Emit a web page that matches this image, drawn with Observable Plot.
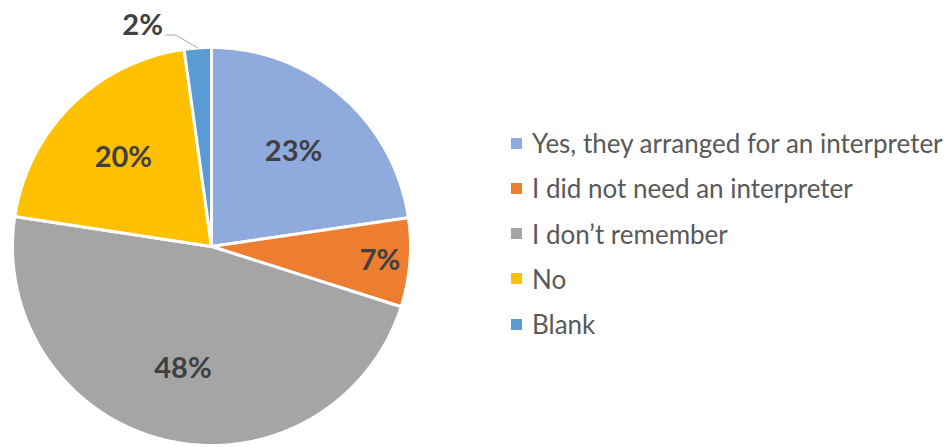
<!DOCTYPE html>
<html>
<head>
<meta charset="utf-8">
<script src="https://cdn.jsdelivr.net/npm/d3@7"></script>
<script src="https://cdn.jsdelivr.net/npm/@observablehq/plot@0.6"></script>
<style>
  body { margin: 0; background: #fff; }
  #wrap { position: relative; width: 948px; height: 447px; }
  #legend { position: absolute; left: 511px; top: 0; font-family: Lato, "Open Sans", sans-serif; color: #595959; }
  .item { position: absolute; left: 0; white-space: nowrap; display: flex; align-items: center; height: 32px; font-size: 26px; }
  .sw { width: 11px; height: 11px; margin-right: 10px; flex: none; }
</style>
</head>
<body>
<div id="wrap"><div id="legend"></div></div>
<script>
const categories = ["Yes, they arranged for an interpreter", "I did not need an interpreter", "I don\u2019t remember", "No", "Blank"];
const shares = [22.7, 7.2, 47.5, 20.4, 2.2];
const labels = ["23%", "7%", "48%", "20%", "2%"];
const colors = ["#8FAADC", "#ED7D31", "#A5A5A5", "#FFC000", "#5B9BD5"];

const rows = categories.map((c, i) => ({cat: c, value: shares[i], label: labels[i]}));
const arcs = d3.pie().sort(null).value(d => d.value).startAngle(0).endAngle(2 * Math.PI)(rows);

const polar = (a, r) => ({x: r * Math.sin(a), y: r * Math.cos(a)});

// slice outlines
const pts = [];
arcs.forEach(a => {
  pts.push({cat: a.data.cat, ...polar(0, 0)});
  const n = Math.max(2, Math.ceil((a.endAngle - a.startAngle) / (Math.PI / 180)));
  for (let k = 0; k <= n; k++) {
    const t = a.startAngle + (a.endAngle - a.startAngle) * k / n;
    pts.push({cat: a.data.cat, ...polar(t, 1)});
  }
});

// labels
const inside = arcs.filter(a => a.data.value >= 5).map(a => {
  const mid = (a.startAngle + a.endAngle) / 2;
  const r = a.data.value < 10 ? 0.85 : 0.63;
  return {label: a.data.label, ...polar(mid, r)};
});
const outside = arcs.filter(a => a.data.value < 5);
const leader = [];
const outLabels = [];
outside.forEach(a => {
  const mid = (a.startAngle + a.endAngle) / 2;
  const p0 = polar(mid, 1.0);
  const p1 = {x: p0.x - 0.11, y: p0.y + 0.065};
  const p2 = {x: p1.x - 0.05, y: p1.y};
  leader.push({k: a.data.cat, ...p0}, {k: a.data.cat, ...p1}, {k: a.data.cat, ...p2});
  outLabels.push({label: a.data.label, x: p2.x - 0.015, y: p2.y + 0.045});
});

const plot = Plot.plot({
  width: 948,
  height: 447,
  margin: 0,
  x: {domain: [-1, 1], range: [12, 410], axis: null},
  y: {domain: [-1, 1], range: [445, 47], axis: null},
  color: {domain: categories, range: colors},
  style: {fontFamily: "Lato, 'Open Sans', sans-serif", overflow: "visible"},
  marks: [
    Plot.line(pts, {x: "x", y: "y", z: "cat", fill: "cat", stroke: "white", strokeWidth: 3, strokeLinejoin: "round", curve: "linear-closed"}),
    Plot.text(inside, {x: "x", y: "y", text: "label", fontSize: 29, fontWeight: "bold", fill: "#404040"}),
    Plot.line(leader, {x: "x", y: "y", z: "k", stroke: "#A6A6A6", strokeWidth: 1}),
    Plot.text(outLabels, {x: "x", y: "y", text: "label", fontSize: 29, fontWeight: "bold", fill: "#404040", textAnchor: "end"})
  ]
});
document.getElementById("wrap").prepend(plot);

const legend = document.getElementById("legend");
categories.forEach((c, i) => {
  const it = document.createElement("div");
  it.className = "item";
  it.style.top = (143 + i * 45.25 - 16) + "px";
  const sw = document.createElement("span");
  sw.className = "sw";
  sw.style.background = colors[i];
  const tx = document.createElement("span");
  tx.textContent = c;
  it.append(sw, tx);
  legend.append(it);
});
</script>
</body>
</html>
